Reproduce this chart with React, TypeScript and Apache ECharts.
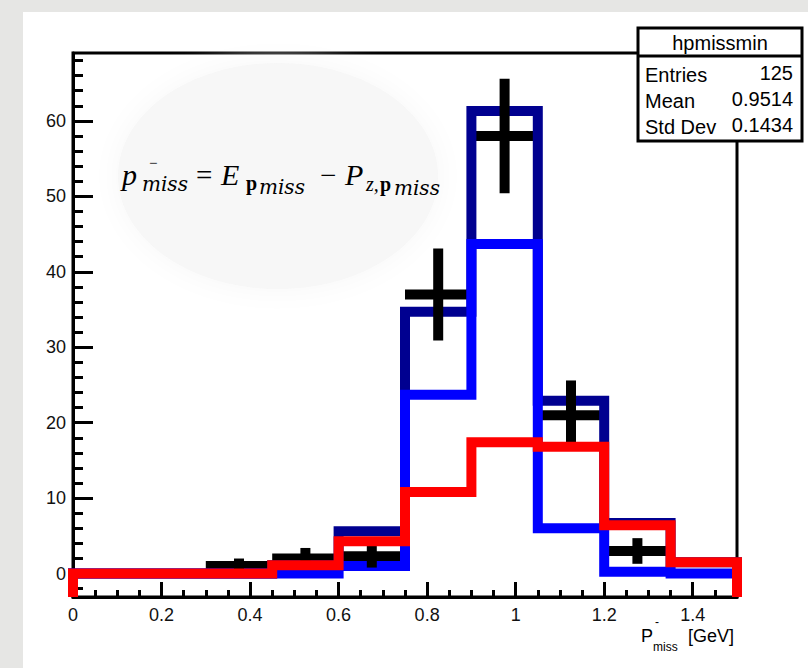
import React, { useEffect, useRef } from 'react';
import * as echarts from 'echarts';

// ---------------- data ----------------
const binEdges = [0, 0.15, 0.3, 0.45, 0.6, 0.75, 0.9, 1.05, 1.2, 1.35, 1.5];
const dataCounts = [0, 0, 1, 2, 2.3, 37, 58, 21, 3, 0];
const dataErrors = [0, 0, 1, 1.4, 1.5, 6.1, 7.6, 4.6, 1.7, 0];
const totalMC = [0, 0, 0, 1.1, 5.6, 34.7, 61.3, 22.9, 6.7, 1.5];
const blueMC = [0, 0, 0, 0, 1.0, 23.7, 43.7, 6.0, 0.25, 0];
const redMC = [0, 0, 0, 1.1, 4.3, 10.8, 17.4, 16.8, 6.4, 1.5];

const xMajorTicks = [0, 0.2, 0.4, 0.6, 0.8, 1, 1.2, 1.4];
const xMinorTicks = [0.05, 0.1, 0.15, 0.25, 0.3, 0.35, 0.45, 0.5, 0.55, 0.65, 0.7, 0.75, 0.85, 0.9, 0.95, 1.05, 1.1, 1.15, 1.25, 1.3, 1.35, 1.45];
const yMajorTicks = [0, 10, 20, 30, 40, 50, 60];
const yMinorTicks = [-2, 2, 4, 6, 8, 12, 14, 16, 18, 22, 24, 26, 28, 32, 34, 36, 38, 42, 44, 46, 48, 52, 54, 56, 58, 62, 64, 66, 68];

const X_MIN = 0;
const X_MAX = 1.5;
const Y_MIN = -3.1;
const Y_MAX = 69;

const statsTitle = 'hpmissmin';
const statsRows = [
  ['Entries', '125'],
  ['Mean', '0.9514'],
  ['Std Dev', '0.1434'],
];

// --------------------------------------
function stepPoints(vals: number[]) {
  const pts: number[][] = [[binEdges[0], Y_MIN]];
  vals.forEach((v, i) => {
    pts.push([binEdges[i], v]);
    pts.push([binEdges[i + 1], v]);
  });
  pts.push([binEdges[binEdges.length - 1], Y_MIN]);
  return pts;
}

const errData = dataCounts
  .map((v, i) => [binEdges[i], binEdges[i + 1], v, dataErrors[i]])
  .filter((d) => d[2] > 0);

const SANS = 'Liberation Sans, Arial, sans-serif';
const SERIF_MAIN = 'Liberation Serif, Times New Roman, serif';
const SERIF_SUB = 'DejaVu Serif, serif';

function txt(text: string, x: number, y: number, o: any = {}) {
  return {
    type: 'text',
    x,
    y,
    z: o.z ?? 50,
    silent: true,
    style: {
      text,
      fill: o.fill ?? '#000',
      fontSize: o.size ?? 18,
      fontFamily: o.family ?? SANS,
      fontStyle: o.italic ? 'italic' : 'normal',
      fontWeight: o.bold ? 'bold' : 'normal',
      align: o.align ?? 'left',
      verticalAlign: 'middle',
    },
  };
}

// formula pieces: text, left x, baseline y, size, family, italic, bold
const formulaPieces: any[] = [
  ['p', 122, 185, 30, SERIF_MAIN, true, false],
  ['\u2212', 149, 168, 15, SERIF_MAIN, false, false],
  ['miss', 142, 191, 20, SERIF_SUB, true, false],
  ['=', 196, 185, 29, SERIF_MAIN, false, false],
  ['E', 221, 185, 30, SERIF_MAIN, true, false],
  ['p', 246, 190, 20, SERIF_MAIN, false, true],
  ['miss', 259, 194, 20, SERIF_SUB, true, false],
  ['\u2212', 320, 185, 29, SERIF_MAIN, false, false],
  ['P', 345, 185, 30, SERIF_MAIN, true, false],
  ['z,', 366, 191, 20, SERIF_MAIN, true, false],
  ['p', 380, 191, 20, SERIF_MAIN, false, true],
  ['miss', 394, 195, 20, SERIF_SUB, true, false],
];

export default function App() {
  const ref = useRef<HTMLDivElement>(null);

  useEffect(() => {
    if (!ref.current) return;
    const chart = echarts.init(ref.current, null, { renderer: 'svg' });

    const tickStyle = { color: '#000', width: 3 };

    const graphics: any[] = [
      {
        type: 'ellipse',
        z: 1,
        silent: true,
        shape: { cx: 278, cy: 176, rx: 160, ry: 113 },
        style: { fill: '#f7f7f7', shadowBlur: 30, shadowColor: '#f7f7f7' },
      },
      ...formulaPieces.map(([t, x, base, size, fam, it, bd]) =>
        txt(t, x, base - 0.34 * size, { size, family: fam, italic: it, bold: bd, z: 20 })
      ),
      // stats box
      {
        type: 'rect',
        z: 90,
        silent: true,
        shape: { x: 638, y: 28, width: 164, height: 113 },
        style: { fill: '#fff', stroke: '#000', lineWidth: 3 },
      },
      {
        type: 'line',
        z: 91,
        silent: true,
        shape: { x1: 638, y1: 56, x2: 802, y2: 56 },
        style: { stroke: '#000', lineWidth: 3 },
      },
      txt(statsTitle, 720, 43, { size: 20, align: 'center', z: 92 }),
      ...statsRows.flatMap((r, i) => [
        txt(r[0], 645, 75 + i * 26, { size: 20, z: 92 }),
        txt(r[1], 793, 73 + i * 26, { size: 20, align: 'right', z: 92 }),
      ]),
      // x axis title
      txt('P', 641, 636, { size: 18 }),
      txt('-', 655, 622, { size: 12 }),
      txt('miss', 653, 647, { size: 12 }),
      txt('[GeV]', 688, 636, { size: 18 }),
    ];

    const lineSeries = (name: string, vals: number[], color: string, z: number) => ({
      name,
      type: 'line',
      data: stepPoints(vals),
      xAxisIndex: 0,
      yAxisIndex: 0,
      symbol: 'none',
      clip: true,
      z,
      lineStyle: { color, width: 10, cap: 'butt', join: 'miter' },
      emphasis: { disabled: true },
    });

    chart.setOption({
      animation: false,
      backgroundColor: 'transparent',
      grid: {
        left: 73,
        right: 71,
        top: 53,
        bottom: 71,
        show: true,
        backgroundColor: '#fff',
        borderColor: '#000',
        borderWidth: 3,
        containLabel: false,
        outerBoundsMode: 'none',
      },
      xAxis: [
        {
          type: 'value',
          min: X_MIN,
          max: X_MAX,
          position: 'bottom',
          axisLine: { show: true, onZero: false, lineStyle: { color: '#000', width: 3 } },
          axisTick: { show: true, inside: true, length: 15, customValues: xMajorTicks, lineStyle: tickStyle },
          axisLabel: {
            show: true,
            customValues: xMajorTicks,
            fontSize: 18,
            fontFamily: SANS,
            color: '#111',
            margin: 9,
          },
          splitLine: { show: false },
        },
        {
          type: 'value',
          min: X_MIN,
          max: X_MAX,
          position: 'bottom',
          axisLine: { show: false, onZero: false },
          axisTick: { show: true, inside: true, length: 7, customValues: xMinorTicks, lineStyle: tickStyle },
          axisLabel: { show: false },
          splitLine: { show: false },
        },
      ],
      yAxis: [
        {
          type: 'value',
          min: Y_MIN,
          max: Y_MAX,
          position: 'left',
          axisLine: { show: true, onZero: false, lineStyle: { color: '#000', width: 3 } },
          axisTick: { show: true, inside: true, length: 20, customValues: yMajorTicks, lineStyle: tickStyle },
          axisLabel: {
            show: true,
            customValues: yMajorTicks,
            fontSize: 18,
            fontFamily: SANS,
            color: '#111',
            margin: 7,
          },
          splitLine: { show: false },
        },
        {
          type: 'value',
          min: Y_MIN,
          max: Y_MAX,
          position: 'left',
          axisLine: { show: false, onZero: false },
          axisTick: { show: true, inside: true, length: 10, customValues: yMinorTicks, lineStyle: tickStyle },
          axisLabel: { show: false },
          splitLine: { show: false },
        },
      ],
      graphic: graphics,
      series: [
        {
          name: 'data-x',
          type: 'custom',
          xAxisIndex: 0,
          yAxisIndex: 0,
          z: 2,
          data: errData,
          encode: { x: [0, 1], y: [2] },
          renderItem: (params: any, api: any) => {
            const a = api.coord([api.value(0), api.value(2)]);
            const b = api.coord([api.value(1), api.value(2)]);
            return {
              type: 'line',
              shape: { x1: a[0], y1: a[1], x2: b[0], y2: b[1] },
              style: { stroke: '#000', lineWidth: 10, lineCap: 'butt' },
            };
          },
        },
        lineSeries('total', totalMC, '#000090', 3),
        lineSeries('blue', blueMC, '#0000ff', 4),
        {
          name: 'data-y',
          type: 'custom',
          xAxisIndex: 0,
          yAxisIndex: 0,
          z: 5,
          data: errData,
          encode: { x: [0, 1], y: [2] },
          renderItem: (params: any, api: any) => {
            const c = (api.value(0) + api.value(1)) / 2;
            const v = api.value(2);
            const e = api.value(3);
            const a = api.coord([c, v - e]);
            const b = api.coord([c, v + e]);
            return {
              type: 'line',
              shape: { x1: a[0], y1: a[1], x2: b[0], y2: b[1] },
              style: { stroke: '#000', lineWidth: 10, lineCap: 'butt' },
            };
          },
        },
        lineSeries('red', redMC, '#ff0000', 6),
      ],
    });

    return () => chart.dispose();
  }, []);

  return (
    <div
      style={{
        position: 'fixed',
        left: 0,
        top: 0,
        width: 808,
        height: 668,
        background: '#e6e6e4',
        overflow: 'hidden',
      }}
    >
      <div
        style={{
          position: 'absolute',
          left: 23,
          top: 12,
          width: 785,
          height: 656,
          background: '#fff',
        }}
      />
      <div ref={ref} style={{ position: 'absolute', left: 0, top: 0, width: 808, height: 668 }} />
    </div>
  );
}
